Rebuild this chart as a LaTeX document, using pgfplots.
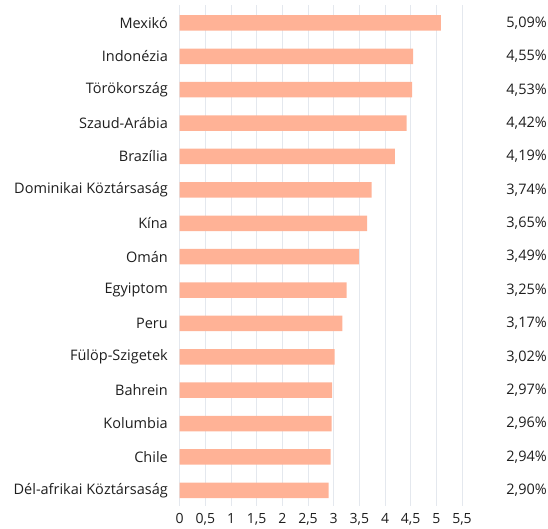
\documentclass[border=0pt]{standalone}
\usepackage{pgfplots}
\pgfplotsset{compat=1.18}
\usepackage{fontspec}
\setmainfont{Open Sans}
\definecolor{barc}{RGB}{255,178,150}
\definecolor{gridc}{RGB}{228,232,238}
\definecolor{txt}{RGB}{30,30,30}
\begin{document}
\begin{tikzpicture}
\path[use as bounding box] (0,0) rectangle (548bp,529bp);
\pgfplotsset{
  common/.style={
    at={(179.7bp,23bp)}, anchor=south west, scale only axis,
    width=282.3bp, height=501bp,
    y dir=reverse, ymin=-0.538, ymax=14.47, xmin=0, xmax=5.5,
    ytick={0,1,2,3,4,5,6,7,8,9,10,11,12,13,14},
    axis line style={draw=none}, major tick length=0pt,
    tick label style={font=\fontsize{14.5bp}{17bp}\selectfont, text=txt},
  }
}
\begin{axis}[common,
  xbar, bar width=0.464,
  xtick={0,0.5,1,1.5,2,2.5,3,3.5,4,4.5,5,5.5},
  xmajorgrids, major grid style={draw=gridc, line width=0.9bp},
  yticklabels={Mexikó,Indonézia,Törökország,Szaud-Arábia,Brazília,Dominikai Köztársaság,Kína,Omán,Egyiptom,Peru,Fülöp-Szigetek,Bahrein,Kolumbia,Chile,Dél-afrikai Köztársaság},
  yticklabel style={anchor=east, inner sep=0pt, xshift=-11.7bp},
  xticklabel style={anchor=north, inner sep=0pt, yshift=-7.5bp, font=\fontsize{14bp}{16bp}\selectfont},
  /pgf/number format/.cd, use comma, fixed, precision=1, assume math mode=true,
]
\addplot[fill=barc, draw=none] coordinates {
(5.09,0) (4.55,1) (4.53,2) (4.42,3) (4.19,4) (3.74,5) (3.65,6) (3.49,7)
(3.25,8) (3.17,9) (3.02,10) (2.97,11) (2.96,12) (2.94,13) (2.90,14)};
\end{axis}
\begin{axis}[common,
  hide x axis, yticklabel pos=right,
  yticklabels={{5,09\%},{4,55\%},{4,53\%},{4,42\%},{4,19\%},{3,74\%},{3,65\%},{3,49\%},{3,25\%},{3,17\%},{3,02\%},{2,97\%},{2,96\%},{2,94\%},{2,90\%}},
  yticklabel style={anchor=east, inner sep=0pt, xshift=85bp},
]
\addplot[draw=none] coordinates {(0,0)};
\end{axis}
\end{tikzpicture}
\end{document}
